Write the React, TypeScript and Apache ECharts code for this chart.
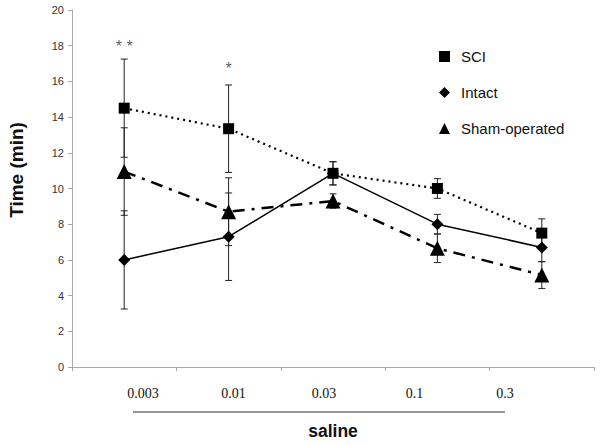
import React, { useEffect, useRef } from "react";
import * as echarts from "echarts";

const categories = ["c1", "c2", "c3", "c4", "c5"];
const doseLabels = ["0.003", "0.01", "0.03", "0.1", "0.3"];
const sciValues = [14.5, 13.35, 10.85, 10.0, 7.5];
const sciErr = [2.75, 2.45, 0.65, 0.55, 0.8];
const intactValues = [6.0, 7.3, 10.85, 8.0, 6.7];
const intactErr = [2.75, 2.45, 0.65, 0.55, 0.8];
const shamValues = [10.95, 8.7, 9.3, 6.65, 5.15];
const shamErr = [2.45, 1.9, 0.4, 0.8, 0.75];
const sigMarks: [number, number, string][] = [
  [0, 17.95, "* *"],
  [1, 16.75, "*"],
];

function errData(vals: number[], errs: number[]) {
  return vals.map((v, i) => [i, v - errs[i], v + errs[i]]);
}

function errSeries(name: string, vals: number[], errs: number[]) {
  return {
    type: "custom",
    name: name + "-err",
    data: errData(vals, errs),
    z: 1,
    renderItem: (params: any, api: any) => {
      const x = api.value(0);
      const lo = api.coord([x, api.value(1)]);
      const hi = api.coord([x, api.value(2)]);
      const w = 3.5;
      const style = { stroke: "#222", lineWidth: 1 };
      return {
        type: "group",
        children: [
          { type: "line", shape: { x1: lo[0], y1: lo[1], x2: hi[0], y2: hi[1] }, style },
          { type: "line", shape: { x1: lo[0] - w, y1: lo[1], x2: lo[0] + w, y2: lo[1] }, style },
          { type: "line", shape: { x1: hi[0] - w, y1: hi[1], x2: hi[0] + w, y2: hi[1] }, style },
        ],
      };
    },
  };
}

export default function App() {
  const ref = useRef<HTMLDivElement>(null);
  useEffect(() => {
    if (!ref.current) return;
    const chart = echarts.init(ref.current, null, { renderer: "svg" });
    const doseStart = 143;
    const doseStep = 90.5;
    const graphic: any[] = doseLabels.map((t, i) => ({
      type: "text",
      x: doseStart + i * doseStep,
      y: 393,
      style: {
        text: t,
        fontFamily: "Liberation Serif",
        fontSize: 14,
        fill: "#111",
        textAlign: "center",
        textVerticalAlign: "middle",
      },
    }));
    graphic.push({
      type: "line",
      shape: { x1: 133, y1: 412, x2: 505, y2: 412 },
      style: { stroke: "#333", lineWidth: 1.2 },
    });
    graphic.push({
      type: "text",
      x: 333,
      y: 431,
      style: {
        text: "saline",
        fontFamily: "Liberation Sans",
        fontSize: 17.5,
        fontWeight: "bold",
        fill: "#111",
        textAlign: "center",
        textVerticalAlign: "middle",
      },
    });
    graphic.push({
      type: "text",
      x: 16,
      y: 170,
      rotation: Math.PI / 2,
      style: {
        text: "Time (min)",
        fontFamily: "Liberation Sans",
        fontSize: 19,
        fontWeight: "bold",
        fill: "#111",
        textAlign: "center",
        textVerticalAlign: "middle",
      },
    });
    chart.setOption({
      animation: false,
      backgroundColor: "#ffffff",
      grid: { left: 72, right: 6, top: 10, bottom: 78 },
      legend: {
        orient: "vertical",
        left: 434,
        top: 44,
        itemWidth: 11,
        itemHeight: 11,
        itemGap: 21,
        textStyle: { fontFamily: "Liberation Sans", fontSize: 15, color: "#111", padding: [0, 0, 0, 6] },
        data: [
          { name: "SCI", icon: "rect" },
          { name: "Intact", icon: "diamond" },
          { name: "Sham-operated", icon: "triangle" },
        ],
      },
      xAxis: {
        type: "category",
        data: categories,
        boundaryGap: true,
        axisLine: { lineStyle: { color: "#aaa" } },
        axisTick: { show: true, interval: 0, length: 4, lineStyle: { color: "#aaa" } },
        axisLabel: { show: false },
      },
      yAxis: {
        type: "value",
        min: 0,
        max: 20,
        interval: 2,
        splitLine: { show: false },
        axisLine: { show: true, lineStyle: { color: "#aaa" } },
        axisTick: { show: true, length: 4, lineStyle: { color: "#aaa" } },
        axisLabel: { fontFamily: "Liberation Sans", fontSize: 11, color: "#333", margin: 8 },
      },
      graphic,
      series: [
        errSeries("SCI", sciValues, sciErr),
        errSeries("Intact", intactValues, intactErr),
        errSeries("Sham-operated", shamValues, shamErr),
        {
          type: "line",
          name: "SCI",
          data: sciValues,
          z: 3,
          symbol: "rect",
          symbolSize: 11,
          itemStyle: { color: "#000" },
          lineStyle: { color: "#000", width: 2.2, type: [2, 4] },
        },
        {
          type: "line",
          name: "Intact",
          data: intactValues,
          z: 3,
          symbol: "diamond",
          symbolSize: 12,
          itemStyle: { color: "#000" },
          lineStyle: { color: "#000", width: 1.5, type: "solid" },
        },
        {
          type: "line",
          name: "Sham-operated",
          data: shamValues,
          z: 3,
          symbol: "triangle",
          symbolSize: 15,
          itemStyle: { color: "#000" },
          lineStyle: { color: "#000", width: 2.5, type: [12, 7, 3, 7] },
        },
        {
          type: "scatter",
          name: "sig",
          data: sigMarks.map((m) => [m[0], m[1], m[2]]),
          symbolSize: 0,
          label: {
            show: true,
            position: "inside",
            formatter: (p: any) => p.value[2],
            fontFamily: "Liberation Sans",
            fontSize: 16,
            color: "#333",
          },
        },
      ],
    });
    return () => chart.dispose();
  }, []);
  return (
    <div
      ref={ref}
      style={{ position: "fixed", left: 0, top: 0, width: 600, height: 445 }}
    />
  );
}
